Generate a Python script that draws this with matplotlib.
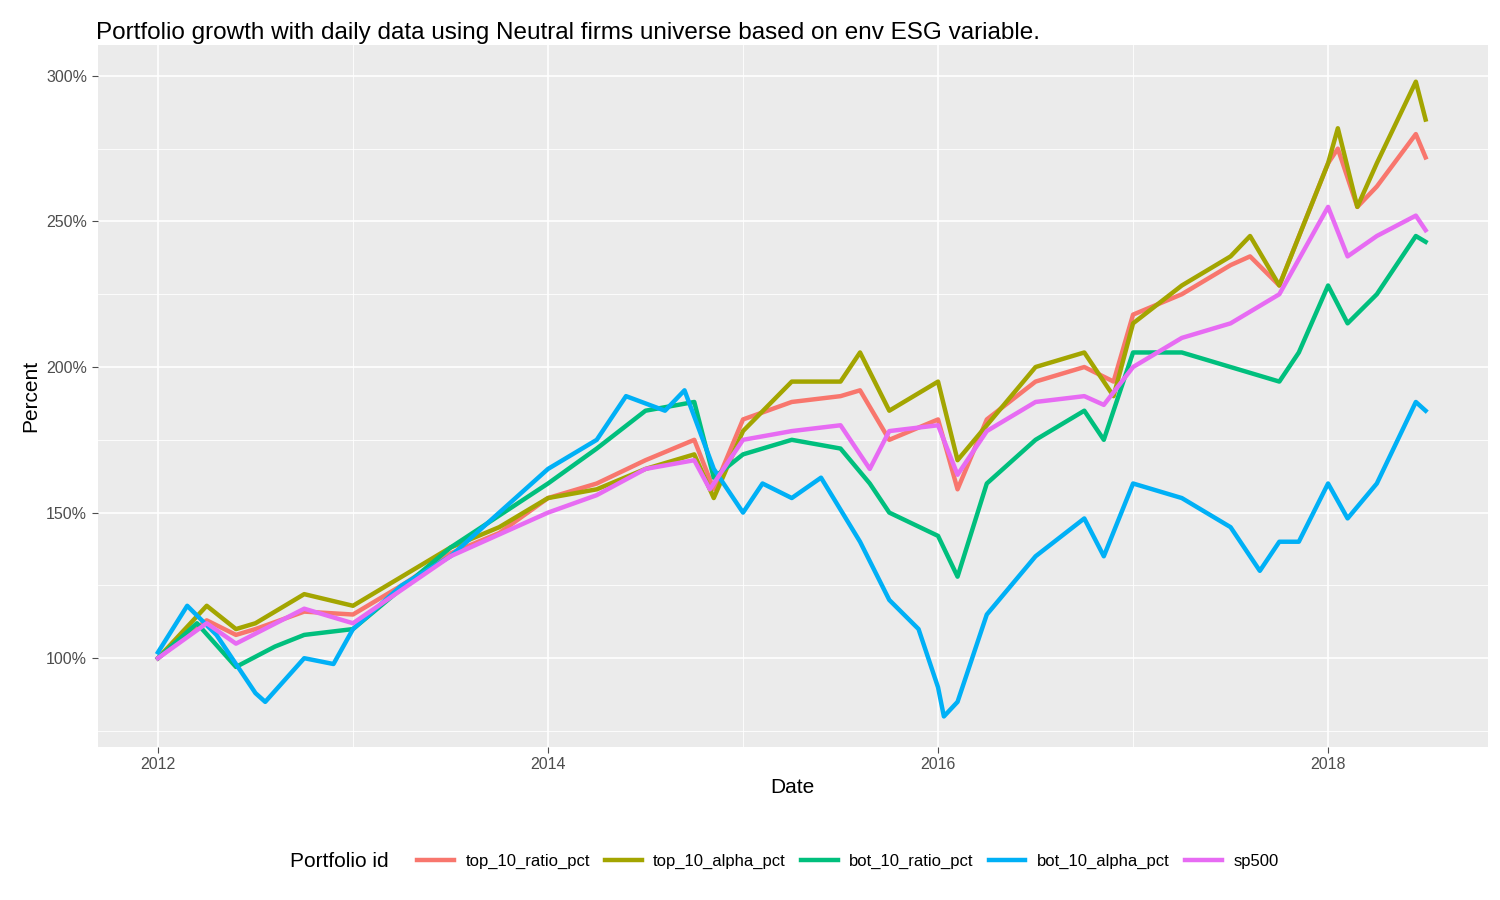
import matplotlib
matplotlib.use("Agg")
import matplotlib.pyplot as plt
import matplotlib.dates as mdates
import pandas as pd

plt.rcParams['font.family'] = ['Liberation Sans', 'DejaVu Sans']

top_ratio_t = [2012.0,2012.25,2012.4,2012.5,2012.75,2013.0,2013.25,2013.5,2013.75,2014.0,2014.25,2014.5,2014.75,2014.85,2015.0,2015.25,2015.5,2015.6,2015.75,2016.0,2016.1,2016.25,2016.5,2016.75,2016.9,2017.0,2017.25,2017.5,2017.6,2017.75,2018.0,2018.05,2018.15,2018.25,2018.45,2018.5]
top_ratio_v = [100,113,108,110,116,115,125,136,143,155,160,168,175,158,182,188,190,192,175,182,158,182,195,200,195,218,225,235,238,228,270,275,255,262,280,272]
top_alpha_t = top_ratio_t
top_alpha_v = [100,118,110,112,122,118,128,138,145,155,158,165,170,155,178,195,195,205,185,195,168,180,200,205,190,215,228,238,245,228,270,282,255,270,298,285]
bot_ratio_t = [2012.0,2012.2,2012.4,2012.6,2012.75,2013.0,2013.5,2014.0,2014.25,2014.5,2014.75,2014.85,2015.0,2015.25,2015.5,2015.65,2015.75,2016.0,2016.1,2016.25,2016.5,2016.75,2016.85,2017.0,2017.25,2017.5,2017.75,2017.85,2018.0,2018.1,2018.25,2018.45,2018.5]
bot_ratio_v = [100,112,97,104,108,110,138,160,172,185,188,162,170,175,172,160,150,142,128,160,175,185,175,205,205,200,195,205,228,215,225,245,243]
bot_alpha_t = [2012.0,2012.15,2012.3,2012.5,2012.55,2012.75,2012.9,2013.0,2013.25,2013.5,2013.75,2014.0,2014.25,2014.4,2014.6,2014.7,2014.85,2015.0,2015.1,2015.25,2015.4,2015.6,2015.75,2015.9,2016.0,2016.03,2016.1,2016.25,2016.5,2016.75,2016.85,2017.0,2017.25,2017.5,2017.65,2017.75,2017.85,2018.0,2018.1,2018.25,2018.45,2018.5]
bot_alpha_v = [102,118,108,88,85,100,98,110,125,135,150,165,175,190,185,192,165,150,160,155,162,140,120,110,90,80,85,115,135,148,135,160,155,145,130,140,140,160,148,160,188,185]
sp_t = [2012.0,2012.25,2012.4,2012.75,2013.0,2013.5,2014.0,2014.25,2014.5,2014.75,2014.83,2015.0,2015.25,2015.5,2015.65,2015.75,2016.0,2016.1,2016.25,2016.5,2016.75,2016.85,2017.0,2017.25,2017.5,2017.75,2018.0,2018.1,2018.25,2018.45,2018.5]
sp_v = [100,112,105,117,112,135,150,156,165,168,158,175,178,180,165,178,180,163,178,188,190,187,200,210,215,225,255,238,245,252,247]

names = ["top_10_ratio_pct","top_10_alpha_pct","bot_10_ratio_pct","bot_10_alpha_pct","sp500"]
colors = ["#F8766D","#A3A500","#00BF7D","#00B0F6","#E76BF3"]
series = [(top_ratio_t,top_ratio_v),(top_alpha_t,top_alpha_v),(bot_ratio_t,bot_ratio_v),(bot_alpha_t,bot_alpha_v),(sp_t,sp_v)]

def todate(ts):
    return [pd.Timestamp("2012-01-01") + pd.Timedelta(days=(t-2012)*365.25) for t in ts]

fig = plt.figure(figsize=(15,9), dpi=100)
ax = fig.add_axes([0.065, 0.17, 0.927, 0.78])
ax.set_facecolor("#EBEBEB")
handles = []
for n,c,(t,v) in zip(names,colors,series):
    h, = ax.plot(todate(t), v, color=c, lw=3.2, label=n, solid_joinstyle="round")
    handles.append(h)

ax.set_xlim(todate([2011.69])[0], todate([2018.82])[0])
ax.set_ylim(69.5, 310.6)
ax.set_yticks([100,150,200,250,300])
ax.set_yticklabels(["100%","150%","200%","250%","300%"])
ax.set_yticks([75,125,175,225,275], minor=True)
ax.xaxis.set_major_locator(mdates.YearLocator(2))
ax.xaxis.set_major_formatter(mdates.DateFormatter("%Y"))
ax.set_xticks(todate([2013,2015,2017]), minor=True)
ax.grid(which="major", color="white", lw=1.2)
ax.grid(which="minor", color="white", lw=0.6)
ax.set_axisbelow(True)
for s in ax.spines.values(): s.set_visible(False)
ax.tick_params(which="both", colors="#4D4D4D", labelsize=11.5, length=4)
ax.tick_params(which="minor", length=0)
ax.set_xlabel("Date", fontsize=15)
ax.set_ylabel("Percent", fontsize=15)
fig.text(0.064, 0.975, "Portfolio growth with daily data using Neutral firms universe based on env ESG variable.", fontsize=17.5, va="top")
fig.text(0.193, 0.043, "Portfolio id", fontsize=15, va="center")
leg = fig.legend(handles=handles, labels=names, loc="center left", bbox_to_anchor=(0.268, 0.043),
           ncol=5, frameon=False, fontsize=12, handlelength=2.2, columnspacing=0.9, handletextpad=0.7)
fig.savefig("out.png")
